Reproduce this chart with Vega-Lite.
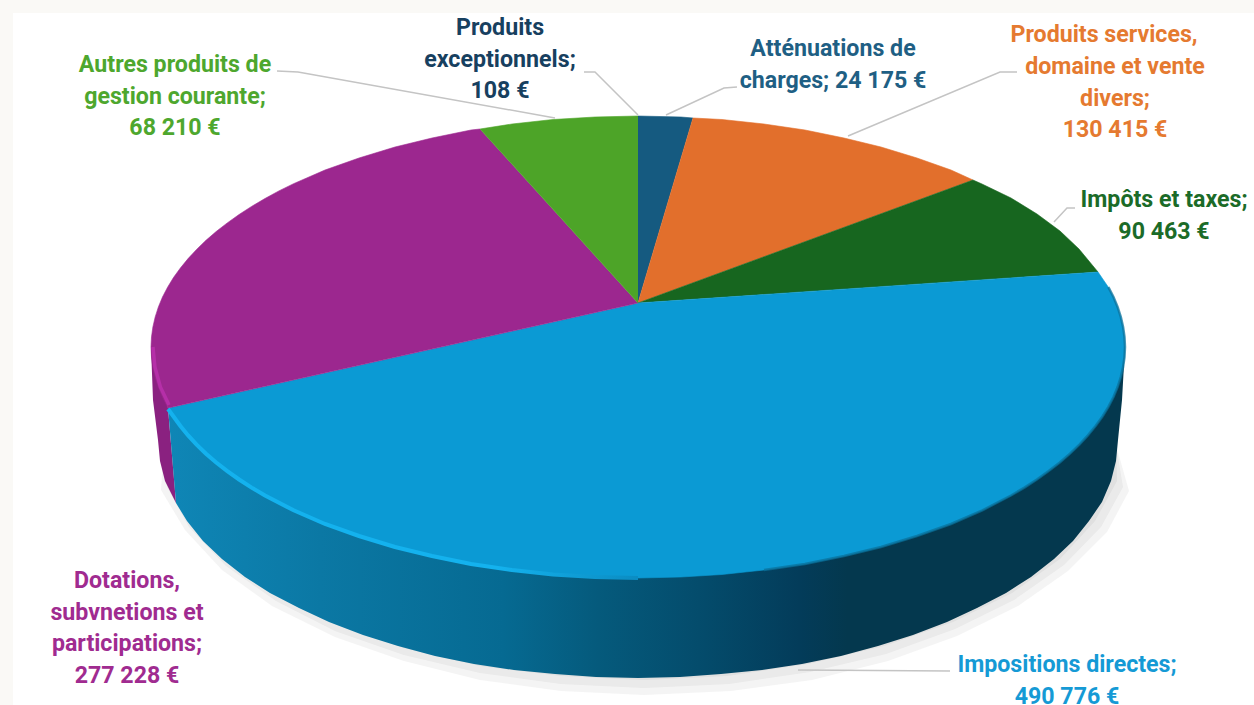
{"$schema":"https://vega.github.io/schema/vega-lite/v6.json","width":1254,"height":705,"autosize":{"type":"none"},"padding":0,"background":"#faf9f6","config":{"view":{"stroke":null}},
"datasets":{
"panel":[{"x":13,"x2":1254,"y":13,"y2":705}],
"shadow":[
{"s":"a","o":0,"x":1116,"y":445},{"s":"a","o":1,"x":1117,"y":481},{"s":"a","o":2,"x":1095,"y":521},{"s":"a","o":3,"x":1060,"y":559},{"s":"a","o":4,"x":1012,"y":593},{"s":"a","o":5,"x":953,"y":622},{"s":"a","o":6,"x":884,"y":646},{"s":"a","o":7,"x":808,"y":664},{"s":"a","o":8,"x":727,"y":676},{"s":"a","o":9,"x":644,"y":680},{"s":"a","o":10,"x":561,"y":676},{"s":"a","o":11,"x":480,"y":666},{"s":"a","o":12,"x":404,"y":648},{"s":"a","o":13,"x":335,"y":624},{"s":"a","o":14,"x":276,"y":595},{"s":"a","o":15,"x":228,"y":561},{"s":"a","o":16,"x":193,"y":523},{"s":"a","o":17,"x":171,"y":483},{"s":"a","o":18,"x":164,"y":445},
{"s":"b","o":0,"x":1116,"y":445},{"s":"b","o":1,"x":1123,"y":487},{"s":"b","o":2,"x":1101,"y":527},{"s":"b","o":3,"x":1064,"y":565},{"s":"b","o":4,"x":1014,"y":600},{"s":"b","o":5,"x":955,"y":629},{"s":"b","o":6,"x":886,"y":654},{"s":"b","o":7,"x":810,"y":672},{"s":"b","o":8,"x":729,"y":684},{"s":"b","o":9,"x":644,"y":688},{"s":"b","o":10,"x":561,"y":684},{"s":"b","o":11,"x":480,"y":673},{"s":"b","o":12,"x":404,"y":655},{"s":"b","o":13,"x":335,"y":631},{"s":"b","o":14,"x":276,"y":601},{"s":"b","o":15,"x":226,"y":566},{"s":"b","o":16,"x":189,"y":527},{"s":"b","o":17,"x":167,"y":487},{"s":"b","o":18,"x":164,"y":445},
{"s":"c","o":0,"x":1116,"y":445},{"s":"c","o":1,"x":1129,"y":491},{"s":"c","o":2,"x":1107,"y":532},{"s":"c","o":3,"x":1068,"y":571},{"s":"c","o":4,"x":1018,"y":606},{"s":"c","o":5,"x":957,"y":636},{"s":"c","o":6,"x":888,"y":661},{"s":"c","o":7,"x":812,"y":680},{"s":"c","o":8,"x":731,"y":691},{"s":"c","o":9,"x":644,"y":695},{"s":"c","o":10,"x":561,"y":691},{"s":"c","o":11,"x":480,"y":680},{"s":"c","o":12,"x":404,"y":661},{"s":"c","o":13,"x":335,"y":637},{"s":"c","o":14,"x":272,"y":606},{"s":"c","o":15,"x":222,"y":570},{"s":"c","o":16,"x":185,"y":530},{"s":"c","o":17,"x":161,"y":490},{"s":"c","o":18,"x":164,"y":445}],
"sidePurple":[{"o":0,"x":151,"y":347},{"o":1,"x":153,"y":400},{"o":2,"x":158,"y":440},{"o":3,"x":160,"y":461},{"o":4,"x":165,"y":481},{"o":5,"x":176,"y":503},{"o":6,"x":168,"y":408}],
"sideBlue":[{"o":0,"x":1125,"y":347},{"o":1,"x":1122,"y":400},{"o":2,"x":1118,"y":440},{"o":3,"x":1116,"y":461},{"o":4,"x":1111,"y":481},{"o":5,"x":1102,"y":502},{"o":6,"x":1089,"y":521},{"o":7,"x":1073,"y":541},{"o":8,"x":1054,"y":559},{"o":9,"x":1031,"y":577},{"o":10,"x":1006,"y":593},{"o":11,"x":977,"y":608},{"o":12,"x":947,"y":622},{"o":13,"x":913,"y":635},{"o":14,"x":878,"y":646},{"o":15,"x":841,"y":656},{"o":16,"x":802,"y":664},{"o":17,"x":762,"y":670},{"o":18,"x":721,"y":674},{"o":19,"x":680,"y":677},{"o":20,"x":638,"y":678},{"o":21,"x":596,"y":677},{"o":22,"x":555,"y":674},{"o":23,"x":514,"y":670},{"o":24,"x":474,"y":664},{"o":25,"x":435,"y":656},{"o":26,"x":398,"y":646},{"o":27,"x":363,"y":635},{"o":28,"x":329,"y":622},{"o":29,"x":299,"y":608},{"o":30,"x":270,"y":593},{"o":31,"x":245,"y":577},{"o":32,"x":222,"y":559},{"o":33,"x":203,"y":541},{"o":34,"x":187,"y":521},{"o":35,"x":176,"y":503},{"o":36,"x":168,"y":408}],
"faces":[
{"poste":"Atténuations de charges","o":0,"x":638,"y":303},{"poste":"Atténuations de charges","o":1,"x":638,"y":116},{"poste":"Atténuations de charges","o":2,"x":681,"y":117},{"poste":"Atténuations de charges","o":3,"x":693,"y":118},
{"poste":"Produits services","o":0,"x":638,"y":303},{"poste":"Produits services","o":1,"x":693,"y":118},{"poste":"Produits services","o":2,"x":722,"y":119.5},{"poste":"Produits services","o":3,"x":764,"y":124},{"poste":"Produits services","o":4,"x":805,"y":130},{"poste":"Produits services","o":5,"x":844,"y":138},{"poste":"Produits services","o":6,"x":881,"y":147},{"poste":"Produits services","o":7,"x":917,"y":158},{"poste":"Produits services","o":8,"x":951,"y":170},{"poste":"Produits services","o":9,"x":973,"y":180},
{"poste":"Impôts et taxes","o":0,"x":638,"y":303},{"poste":"Impôts et taxes","o":1,"x":973,"y":180},{"poste":"Impôts et taxes","o":2,"x":982,"y":184},{"poste":"Impôts et taxes","o":3,"x":1011,"y":198},{"poste":"Impôts et taxes","o":4,"x":1037,"y":214},{"poste":"Impôts et taxes","o":5,"x":1060,"y":231},{"poste":"Impôts et taxes","o":6,"x":1079,"y":249},{"poste":"Impôts et taxes","o":7,"x":1098,"y":272},
{"poste":"Impositions directes","o":0,"x":638,"y":303},{"poste":"Impositions directes","o":1,"x":1098,"y":272},{"poste":"Impositions directes","o":2,"x":1108.4,"y":287.2},{"poste":"Impositions directes","o":3,"x":1113.5,"y":297},{"poste":"Impositions directes","o":4,"x":1117.6,"y":306.9},{"poste":"Impositions directes","o":5,"x":1120.8,"y":316.9},{"poste":"Impositions directes","o":6,"x":1123.1,"y":326.9},{"poste":"Impositions directes","o":7,"x":1124.5,"y":336.9},{"poste":"Impositions directes","o":8,"x":1125,"y":347},{"poste":"Impositions directes","o":9,"x":1124.5,"y":357.1},{"poste":"Impositions directes","o":10,"x":1123.1,"y":367.1},{"poste":"Impositions directes","o":11,"x":1120.8,"y":377.1},{"poste":"Impositions directes","o":12,"x":1117.6,"y":387.1},{"poste":"Impositions directes","o":13,"x":1113.5,"y":397},{"poste":"Impositions directes","o":14,"x":1108.4,"y":406.8},{"poste":"Impositions directes","o":15,"x":1102.5,"y":416.5},{"poste":"Impositions directes","o":16,"x":1095.6,"y":426},{"poste":"Impositions directes","o":17,"x":1087.9,"y":435.4},{"poste":"Impositions directes","o":18,"x":1079.4,"y":444.6},{"poste":"Impositions directes","o":19,"x":1070,"y":453.7},{"poste":"Impositions directes","o":20,"x":1059.8,"y":462.5},{"poste":"Impositions directes","o":21,"x":1048.7,"y":471.1},{"poste":"Impositions directes","o":22,"x":1036.9,"y":479.5},{"poste":"Impositions directes","o":23,"x":1024.4,"y":487.6},{"poste":"Impositions directes","o":24,"x":1011,"y":495.5},{"poste":"Impositions directes","o":25,"x":982.4,"y":510.3},{"poste":"Impositions directes","o":26,"x":951,"y":524},{"poste":"Impositions directes","o":27,"x":917,"y":536},{"poste":"Impositions directes","o":28,"x":881,"y":547},{"poste":"Impositions directes","o":29,"x":844,"y":556},{"poste":"Impositions directes","o":30,"x":805,"y":564},{"poste":"Impositions directes","o":31,"x":764,"y":570},{"poste":"Impositions directes","o":32,"x":722,"y":574.5},{"poste":"Impositions directes","o":33,"x":681,"y":577},{"poste":"Impositions directes","o":34,"x":638,"y":578},{"poste":"Impositions directes","o":35,"x":595,"y":577},{"poste":"Impositions directes","o":36,"x":553,"y":574.5},{"poste":"Impositions directes","o":37,"x":512,"y":570},{"poste":"Impositions directes","o":38,"x":471,"y":564},{"poste":"Impositions directes","o":39,"x":432,"y":556},{"poste":"Impositions directes","o":40,"x":395,"y":547},{"poste":"Impositions directes","o":41,"x":359,"y":536},{"poste":"Impositions directes","o":42,"x":325,"y":524},{"poste":"Impositions directes","o":43,"x":293.6,"y":510.3},{"poste":"Impositions directes","o":44,"x":265,"y":495.5},{"poste":"Impositions directes","o":45,"x":251.6,"y":487.6},{"poste":"Impositions directes","o":46,"x":239.1,"y":479.5},{"poste":"Impositions directes","o":47,"x":227.3,"y":471.1},{"poste":"Impositions directes","o":48,"x":216.2,"y":462.5},{"poste":"Impositions directes","o":49,"x":206,"y":453.7},{"poste":"Impositions directes","o":50,"x":196.6,"y":444.6},{"poste":"Impositions directes","o":51,"x":188.1,"y":435.4},{"poste":"Impositions directes","o":52,"x":180.4,"y":426},{"poste":"Impositions directes","o":53,"x":173.5,"y":416.5},{"poste":"Impositions directes","o":54,"x":168,"y":408},
{"poste":"Dotations","o":0,"x":638,"y":303},{"poste":"Dotations","o":1,"x":168,"y":408},{"poste":"Dotations","o":2,"x":162.5,"y":397},{"poste":"Dotations","o":3,"x":158.4,"y":387.1},{"poste":"Dotations","o":4,"x":155.2,"y":377.1},{"poste":"Dotations","o":5,"x":152.9,"y":367.1},{"poste":"Dotations","o":6,"x":151.5,"y":357.1},{"poste":"Dotations","o":7,"x":151,"y":347},{"poste":"Dotations","o":8,"x":151.5,"y":336.9},{"poste":"Dotations","o":9,"x":152.9,"y":326.9},{"poste":"Dotations","o":10,"x":155.2,"y":316.9},{"poste":"Dotations","o":11,"x":158.4,"y":306.9},{"poste":"Dotations","o":12,"x":162.5,"y":297},{"poste":"Dotations","o":13,"x":167.6,"y":287.2},{"poste":"Dotations","o":14,"x":173.5,"y":277.5},{"poste":"Dotations","o":15,"x":180.4,"y":268},{"poste":"Dotations","o":16,"x":188.1,"y":258.6},{"poste":"Dotations","o":17,"x":196.6,"y":249.4},{"poste":"Dotations","o":18,"x":206,"y":240.3},{"poste":"Dotations","o":19,"x":216.2,"y":231.5},{"poste":"Dotations","o":20,"x":227.3,"y":222.9},{"poste":"Dotations","o":21,"x":239.1,"y":214.5},{"poste":"Dotations","o":22,"x":251.6,"y":206.4},{"poste":"Dotations","o":23,"x":265,"y":198.5},{"poste":"Dotations","o":24,"x":278.9,"y":190.9},{"poste":"Dotations","o":25,"x":293.6,"y":183.7},{"poste":"Dotations","o":26,"x":325,"y":170},{"poste":"Dotations","o":27,"x":359,"y":158},{"poste":"Dotations","o":28,"x":395,"y":147},{"poste":"Dotations","o":29,"x":432,"y":138},{"poste":"Dotations","o":30,"x":471,"y":130},{"poste":"Dotations","o":31,"x":480,"y":129},
{"poste":"Autres produits","o":0,"x":638,"y":303},{"poste":"Autres produits","o":1,"x":480,"y":129},{"poste":"Autres produits","o":2,"x":512,"y":124},{"poste":"Autres produits","o":3,"x":553,"y":119.5},{"poste":"Autres produits","o":4,"x":595,"y":117},{"poste":"Autres produits","o":5,"x":638,"y":116}],
"rimBlue":[{"o":0,"x":168,"y":409},{"o":1,"x":173.5,"y":416.5},{"o":2,"x":180.4,"y":426},{"o":3,"x":188.1,"y":435.4},{"o":4,"x":196.6,"y":444.6},{"o":5,"x":206,"y":453.7},{"o":6,"x":216.2,"y":462.5},{"o":7,"x":227.3,"y":471.1},{"o":8,"x":239.1,"y":479.5},{"o":9,"x":251.6,"y":487.6},{"o":10,"x":265,"y":495.5},{"o":11,"x":293.6,"y":510.3},{"o":12,"x":325,"y":524},{"o":13,"x":359,"y":536},{"o":14,"x":395,"y":547},{"o":15,"x":432,"y":556},{"o":16,"x":471,"y":564},{"o":17,"x":512,"y":570},{"o":18,"x":553,"y":574.5},{"o":19,"x":595,"y":577},{"o":20,"x":638,"y":578}],
"rimPurple":[{"o":0,"x":153,"y":347},{"o":1,"x":154.9,"y":367},{"o":2,"x":160.4,"y":387},{"o":3,"x":169,"y":405}],
"rimDark":[{"o":0,"x":1108.4,"y":287.2},{"o":1,"x":1113.5,"y":297},{"o":2,"x":1117.6,"y":306.9},{"o":3,"x":1120.8,"y":316.9},{"o":4,"x":1123.1,"y":326.9},{"o":5,"x":1124.5,"y":336.9},{"o":6,"x":1125,"y":347},{"o":7,"x":1124.5,"y":357.1},{"o":8,"x":1123.1,"y":367.1},{"o":9,"x":1120.8,"y":377.1},{"o":10,"x":1117.6,"y":387.1},{"o":11,"x":1113.5,"y":397},{"o":12,"x":1108.4,"y":406.8},{"o":13,"x":1102.5,"y":416.5},{"o":14,"x":1095.6,"y":426},{"o":15,"x":1087.9,"y":435.4},{"o":16,"x":1079.4,"y":444.6},{"o":17,"x":1070,"y":453.7},{"o":18,"x":1059.8,"y":462.5},{"o":19,"x":1048.7,"y":471.1},{"o":20,"x":1036.9,"y":479.5},{"o":21,"x":1024.4,"y":487.6},{"o":22,"x":1011,"y":495.5},{"o":23,"x":982.4,"y":510.3},{"o":24,"x":951,"y":524},{"o":25,"x":917,"y":536},{"o":26,"x":881,"y":547},{"o":27,"x":844,"y":556},{"o":28,"x":805,"y":564},{"o":29,"x":764,"y":570}],
"leaders":[
{"l":"a","o":0,"x":277,"y":71},{"l":"a","o":1,"x":298,"y":72},{"l":"a","o":2,"x":555,"y":118},
{"l":"b","o":0,"x":584,"y":72},{"l":"b","o":1,"x":595,"y":72},{"l":"b","o":2,"x":638,"y":115},
{"l":"c","o":0,"x":666,"y":115},{"l":"c","o":1,"x":724,"y":88},{"l":"c","o":2,"x":737,"y":87},
{"l":"d","o":0,"x":848,"y":136},{"l":"d","o":1,"x":1000,"y":72},{"l":"d","o":2,"x":1017,"y":72},
{"l":"e","o":0,"x":1054,"y":222},{"l":"e","o":1,"x":1067,"y":208},{"l":"e","o":2,"x":1075,"y":208},
{"l":"f","o":0,"x":798,"y":670},{"l":"f","o":1,"x":950,"y":671}],
"labels":[
{"poste":"Autres produits","montant":68210,"texte":"Autres produits de\ngestion courante;\n68 210 €","x":175,"y":65},
{"poste":"Produits exceptionnels","montant":108,"texte":"Produits\nexceptionnels;\n108 €","x":500,"y":28},
{"poste":"Atténuations de charges","montant":24175,"texte":"Atténuations de\ncharges; 24 175 €","x":833,"y":49},
{"poste":"Produits services","montant":130415,"texte":"Produits  services,","x":1104,"y":35},
{"poste":"Produits services","montant":130415,"texte":"domaine et vente\ndivers;\n130 415 €","x":1115,"y":67},
{"poste":"Impôts et taxes","montant":90463,"texte":"Impôts et taxes;\n90 463 €","x":1164,"y":200},
{"poste":"Impositions directes","montant":490776,"texte":"Impositions directes;\n490 776 €","x":1067,"y":665},
{"poste":"Dotations","montant":277228,"texte":"Dotations,\nsubvnetions et\nparticipations;\n277 228 €","x":127,"y":581}]
},
"encoding":{"x":{"field":"x","type":"quantitative","scale":{"domain":[0,1254]},"axis":null},"y":{"field":"y","type":"quantitative","scale":{"domain":[705,0]},"axis":null}},
"layer":[
{"data":{"name":"panel"},"mark":{"type":"rect","fill":"#ffffff"},"encoding":{"x2":{"field":"x2"},"y2":{"field":"y2"}}},
{"data":{"name":"shadow"},"mark":{"type":"line","filled":true,"fill":"#8a8a8a","fillOpacity":0.09,"stroke":null},"encoding":{"detail":{"field":"s"},"order":{"field":"o"}}},
{"data":{"name":"sidePurple"},"mark":{"type":"line","filled":true,"fill":"#8a2180","stroke":null},"encoding":{"order":{"field":"o"}}},
{"data":{"name":"sideBlue"},"mark":{"type":"line","filled":true,"stroke":null,"fill":{"x1":0,"y1":0,"x2":1,"y2":0,"gradient":"linear","stops":[{"offset":0,"color":"#0f86b6"},{"offset":0.16,"color":"#0b78a4"},{"offset":0.35,"color":"#066a92"},{"offset":0.45,"color":"#055a7c"},{"offset":0.555,"color":"#044c6c"},{"offset":0.66,"color":"#033c5a"},{"offset":0.71,"color":"#04384e"},{"offset":1,"color":"#04384e"}]}},"encoding":{"order":{"field":"o"}}},
{"data":{"name":"faces"},"mark":{"type":"line","filled":true,"strokeWidth":0.6},"encoding":{"order":{"field":"o"},"fill":{"field":"poste","type":"nominal","legend":null,"scale":{"domain":["Atténuations de charges","Produits services","Impôts et taxes","Impositions directes","Dotations","Autres produits"],"range":["#155a80","#e26f2c","#17661f","#0b9ad4","#9c278f","#4da428"]}},"stroke":{"field":"poste","type":"nominal","legend":null,"scale":{"domain":["Atténuations de charges","Produits services","Impôts et taxes","Impositions directes","Dotations","Autres produits"],"range":["#155a80","#e26f2c","#17661f","#0b9ad4","#9c278f","#4da428"]}}}},
{"data":{"name":"rimPurple"},"mark":{"type":"line","stroke":"#b52fa8","strokeWidth":3.5},"encoding":{"order":{"field":"o"}}},
{"data":{"name":"rimDark"},"mark":{"type":"line","stroke":"#0a6f98","strokeWidth":2.5,"opacity":0.7},"encoding":{"order":{"field":"o"}}},
{"data":{"name":"rimBlue"},"mark":{"type":"line","strokeWidth":4,"stroke":{"x1":0,"y1":0,"x2":1,"y2":0,"gradient":"linear","stops":[{"offset":0,"color":"#14b2ee"},{"offset":0.7,"color":"#14b2ee"},{"offset":1,"color":"#0b8cc2"}]}},"encoding":{"order":{"field":"o"}}},
{"data":{"name":"leaders"},"mark":{"type":"line","stroke":"#c4c4c4","strokeWidth":1.5},"encoding":{"detail":{"field":"l"},"order":{"field":"o"}}},
{"data":{"name":"labels"},"mark":{"type":"text","font":"Roboto","fontWeight":700,"fontSize":23.2,"lineBreak":"\n","lineHeight":31.7,"align":"center","baseline":"middle"},"encoding":{"text":{"field":"texte"},"color":{"field":"poste","type":"nominal","legend":null,"scale":{"domain":["Autres produits","Produits exceptionnels","Atténuations de charges","Produits services","Impôts et taxes","Impositions directes","Dotations"],"range":["#4ea72e","#17405f","#1f5f84","#e57a30","#1b6b28","#159ad5","#a02b90"]}}}}
],
"resolve":{"scale":{"color":"independent","fill":"independent","stroke":"independent"}}
}
